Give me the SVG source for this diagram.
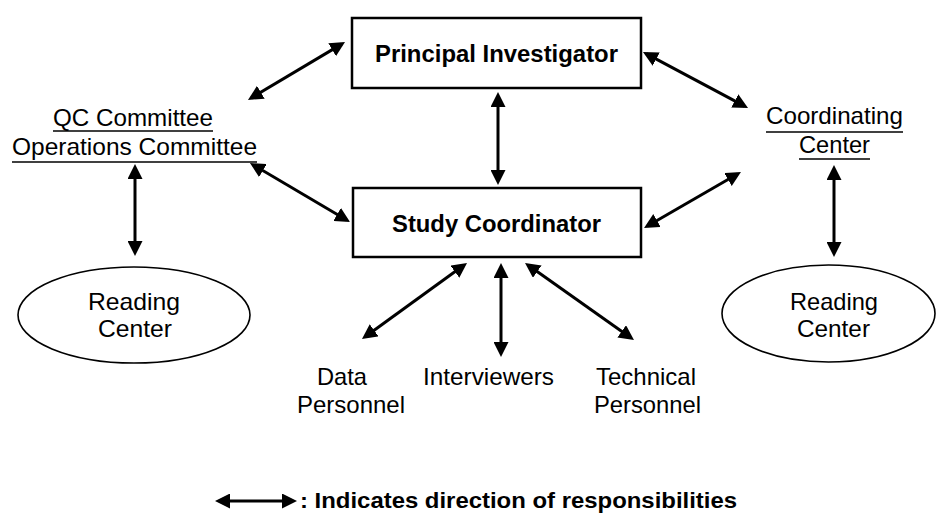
<svg xmlns="http://www.w3.org/2000/svg" width="936" height="513" viewBox="0 0 936 513">
<defs>
<style>
.box{fill:#fff;stroke:#000;stroke-width:2.5}
.ell{fill:#fff;stroke:#000;stroke-width:1.6}
.t{font-family:"Liberation Sans",Arial,sans-serif;font-size:24px;fill:#000}
.b{font-weight:bold}
.lg{font-size:22px}
.ul{stroke:#000;stroke-width:1.5}
.con line{stroke:#000;stroke-width:3;marker-start:url(#ah);marker-end:url(#ah)}
</style>
<marker id="ah" markerUnits="userSpaceOnUse" markerWidth="15" markerHeight="15" viewBox="0 0 15 15" refX="11" refY="7.5" orient="auto-start-reverse">
<path d="M0,0 L15,7.5 L0,15 z" fill="#000"/>
</marker>
</defs>
<rect width="936" height="513" fill="#fff"/>

<g id="pi">
<rect class="box" x="352" y="18" width="289" height="70"/>
<text class="t b" x="375" y="62" textLength="243" lengthAdjust="spacingAndGlyphs">Principal Investigator</text>
</g>
<g id="sc">
<rect class="box" x="353" y="188" width="288" height="69"/>
<text class="t b" x="392" y="232" textLength="209" lengthAdjust="spacingAndGlyphs">Study Coordinator</text>
</g>
<g id="qc">
<text class="t" x="53" y="126" textLength="160" lengthAdjust="spacingAndGlyphs">QC Committee</text>
<line class="ul" x1="53" y1="131" x2="213" y2="131"/>
<text class="t" x="12" y="155" textLength="245" lengthAdjust="spacingAndGlyphs">Operations Committee</text>
<line class="ul" x1="12" y1="162" x2="257" y2="162"/>
</g>
<g id="cc">
<text class="t" x="766" y="124" textLength="137" lengthAdjust="spacingAndGlyphs">Coordinating</text>
<line class="ul" x1="766" y1="132" x2="903" y2="132"/>
<text class="t" x="799" y="153" textLength="71" lengthAdjust="spacingAndGlyphs">Center</text>
<line class="ul" x1="799" y1="159" x2="870" y2="159"/>
</g>
<g id="rc-left">
<ellipse class="ell" cx="134" cy="315" rx="116" ry="48"/>
<text class="t" x="88" y="310" textLength="92" lengthAdjust="spacingAndGlyphs">Reading</text>
<text class="t" x="98" y="337" textLength="74" lengthAdjust="spacingAndGlyphs">Center</text>
</g>
<g id="rc-right">
<ellipse class="ell" cx="828.5" cy="313.5" rx="106.5" ry="48.5"/>
<text class="t" x="790" y="310" textLength="88" lengthAdjust="spacingAndGlyphs">Reading</text>
<text class="t" x="797" y="337" textLength="73" lengthAdjust="spacingAndGlyphs">Center</text>
</g>
<g id="data">
<text class="t" x="317" y="385" textLength="50" lengthAdjust="spacingAndGlyphs">Data</text>
<text class="t" x="297" y="413" textLength="108" lengthAdjust="spacingAndGlyphs">Personnel</text>
</g>
<g id="interviewers">
<text class="t" x="423" y="385" textLength="131" lengthAdjust="spacingAndGlyphs">Interviewers</text>
</g>
<g id="technical">
<text class="t" x="596" y="385" textLength="100" lengthAdjust="spacingAndGlyphs">Technical</text>
<text class="t" x="594" y="413" textLength="107" lengthAdjust="spacingAndGlyphs">Personnel</text>
</g>

<g id="connectors" class="con">
<line x1="251.4" y1="97.9" x2="341.6" y2="44.1"/>
<line x1="253.4" y1="165" x2="346.6" y2="220"/>
<line x1="135" y1="168" x2="135" y2="252"/>
<line x1="498" y1="96" x2="498" y2="181"/>
<line x1="646.5" y1="53.9" x2="744.5" y2="106.1"/>
<line x1="647.5" y1="226" x2="737.5" y2="174"/>
<line x1="834" y1="169" x2="834" y2="253"/>
<line x1="463.8" y1="265.3" x2="365.2" y2="336.7"/>
<line x1="501" y1="267" x2="501" y2="353"/>
<line x1="528.3" y1="265.3" x2="630.7" y2="337.7"/>
</g>

<g id="legend">
<g class="con"><line x1="219" y1="501" x2="293" y2="501"/></g>
<text class="t b lg" x="300" y="508" textLength="437" lengthAdjust="spacingAndGlyphs">:  Indicates direction of responsibilities</text>
</g>
</svg>
